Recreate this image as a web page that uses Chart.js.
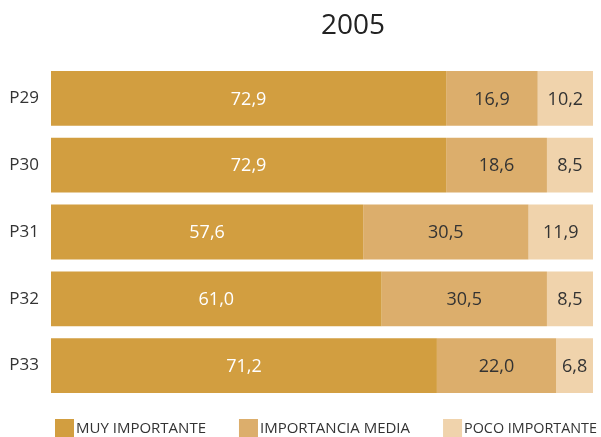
<!DOCTYPE html>
<html>
<head>
<meta charset="utf-8">
<script src="https://cdn.jsdelivr.net/npm/chart.js@4"></script>
<style>
  html, body { margin: 0; padding: 0; background: #fff; }
  #wrap { width: 601px; height: 437px; }
</style>
</head>
<body>
<div id="wrap"><canvas id="chart" width="601" height="437"></canvas></div>
<script>
const preguntas = ["P29", "P30", "P31", "P32", "P33"];
const muyImportante = [72.9, 72.9, 57.6, 61.0, 71.2];
const importanciaMedia = [16.9, 18.6, 30.5, 30.5, 22.0];
const pocoImportante = [10.2, 8.5, 11.9, 8.5, 6.8];

const FONT = "'Open Sans', 'Noto Sans', sans-serif";

// writes the value in the middle of each segment, decimal comma
const segmentLabels = {
    id: "segmentLabels",
    afterDatasetsDraw(chart) {
        const ctx = chart.ctx;
        ctx.save();
        ctx.font = "18px " + FONT;
        ctx.textAlign = "center";
        ctx.textBaseline = "middle";
        chart.data.datasets.forEach((ds, i) => {
            chart.getDatasetMeta(i).data.forEach((bar, j) => {
                const x = (bar.x + bar.base) / 2;
                ctx.fillStyle = i === 0 ? "#ffffff" : "#333333";
                ctx.fillText(ds.data[j].toFixed(1).replace(".", ","), x, bar.y + 1);
            });
        });
        ctx.restore();
    }
};

// year heading + legend row under the bars
const decor = {
    id: "decor",
    afterDraw(chart) {
        const ctx = chart.ctx;
        ctx.save();
        ctx.font = "28px " + FONT;
        ctx.fillStyle = "#222222";
        ctx.textAlign = "center";
        ctx.textBaseline = "middle";
        ctx.fillText("2005", 353, 26);

        ctx.font = "15px " + FONT;
        ctx.textAlign = "left";
        let x = 55;
        const y = 419;
        chart.data.datasets.forEach(ds => {
            ctx.fillStyle = ds.backgroundColor;
            ctx.fillRect(x, y, 19, 18);
            ctx.fillStyle = "#333333";
            // keep the last label inside the canvas
            const room = chart.width - 4 - (x + 21);
            const w = Math.min(ctx.measureText(ds.label).width, room);
            ctx.fillText(ds.label, x + 21, y + 10, w);
            x += 21 + w + 33;
        });
        ctx.restore();
    }
};

new Chart(document.getElementById("chart"), {
    type: "bar",
    data: {
        labels: preguntas,
        datasets: [
            { label: "MUY IMPORTANTE", data: muyImportante, backgroundColor: "#d29e40" },
            { label: "IMPORTANCIA MEDIA", data: importanciaMedia, backgroundColor: "#dcae6c" },
            { label: "POCO IMPORTANTE", data: pocoImportante, backgroundColor: "#f0d3ac" }
        ]
    },
    options: {
        indexAxis: "y",
        responsive: false,
        animation: false,
        datasets: {
            bar: { categoryPercentage: 0.82, barPercentage: 1.0, borderWidth: 0 }
        },
        layout: { padding: { top: 65, right: 8, left: 0, bottom: 38 } },
        scales: {
            x: { stacked: true, min: 0, max: 100, display: false },
            y: {
                stacked: true,
                grid: { display: false, drawTicks: false },
                border: { display: false },
                ticks: { color: "#333333", font: { family: FONT, size: 17 }, padding: 12 },
                afterFit(scale) { scale.width = 51; }
            }
        },
        plugins: {
            legend: { display: false },
            tooltip: { enabled: false }
        }
    },
    plugins: [segmentLabels, decor]
});
</script>
</body>
</html>
